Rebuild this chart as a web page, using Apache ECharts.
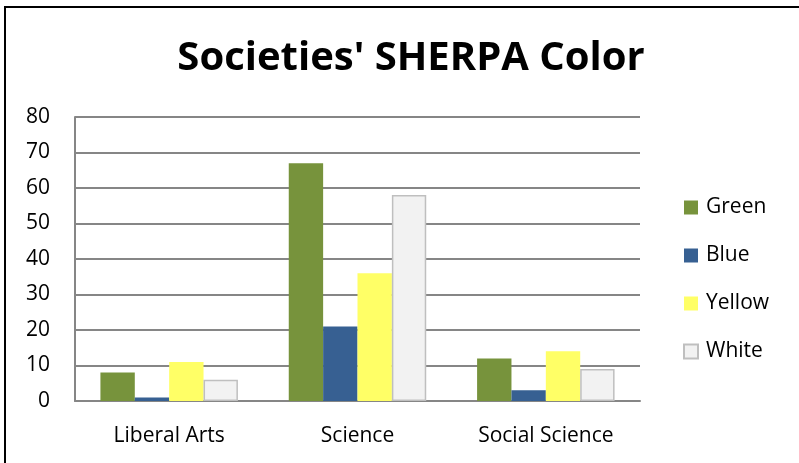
<!DOCTYPE html>
<html><head><meta charset="utf-8">
<script src="https://cdn.jsdelivr.net/npm/echarts@6/dist/echarts.min.js"></script>
<style>html,body{margin:0;padding:0;background:#fff}#c{width:799px;height:463px}</style>
</head><body><div id="c"></div>
<script>
const categories = ['Liberal Arts', 'Science', 'Social Science'];
const green = [8, 67, 12];
const blue = [1, 21, 3];
const yellow = [11, 36, 14];
const white = [6, 58, 9];
const yTicks = [0, 10, 20, 30, 40, 50, 60, 70, 80];

const font = "'Open Sans', Lato, sans-serif";
const chart = echarts.init(document.getElementById('c'));
function s(name, data, color, border) {
  return {
    name, type: 'bar', data, barGap: '0%', barCategoryGap: '27%',
    itemStyle: { color, borderColor: border || color, borderWidth: border ? 1.5 : 0 },
    emphasis: { disabled: true }
  };
}
chart.setOption({
  animation: false,
  textStyle: { fontFamily: font },
  title: {
    text: "Societies' SHERPA Color", left: 406, top: 34, textAlign: 'center',
    textStyle: { fontFamily: font, fontSize: 40, fontWeight: 'bold', color: '#000' }
  },
  graphic: [{ type: 'rect', shape: { x: 5, y: 7, width: 900, height: 600 }, style: { fill: 'none', stroke: '#000', lineWidth: 2 }, silent: true }],
  legend: {
    orient: 'vertical', left: 683, top: 197, padding: 0, itemWidth: 14, itemHeight: 14, itemGap: 27,
    icon: 'rect',
    textStyle: { fontFamily: font, fontSize: 21, color: '#000', padding: [0, 0, 0, 3] },
    data: ['Green', 'Blue', 'Yellow', 'White']
  },
  grid: { left: 75, right: 159, top: 117, bottom: 62, containLabel: false },
  xAxis: {
    type: 'category', data: categories,
    axisLine: { lineStyle: { color: '#868686', width: 2 } },
    axisTick: { show: false },
    axisLabel: { fontFamily: font, fontSize: 21, color: '#000', margin: 25 }
  },
  yAxis: {
    type: 'value', min: yTicks[0], max: yTicks[yTicks.length - 1], interval: 10,
    axisLine: { show: true, lineStyle: { color: '#868686', width: 2 } },
    axisTick: { show: false },
    splitLine: { lineStyle: { color: '#868686', width: 2 } },
    axisLabel: { fontFamily: font, fontSize: 21, color: '#000', margin: 25 }
  },
  series: [
    s('Green', green, '#77933C'),
    s('Blue', blue, '#376092'),
    s('Yellow', yellow, '#FFFF66'),
    s('White', white, '#F2F2F2', '#BFBFBF')
  ]
});
</script></body></html>
